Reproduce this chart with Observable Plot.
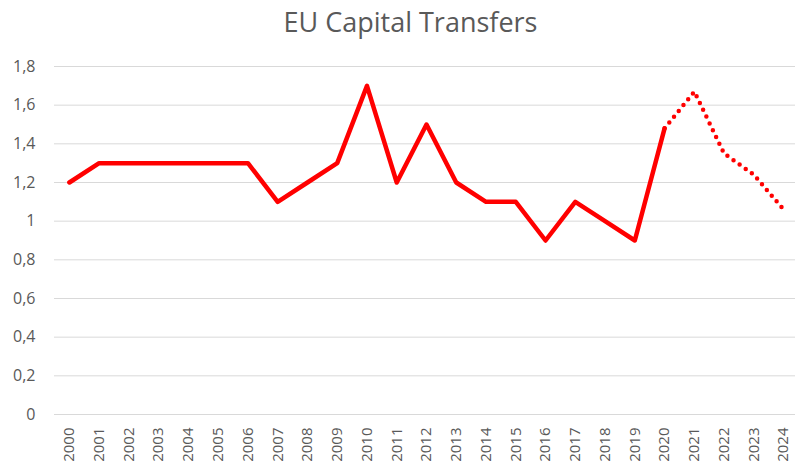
<!DOCTYPE html>
<html>
<head>
<meta charset="utf-8">
<script src="https://cdn.jsdelivr.net/npm/d3@7"></script>
<script src="https://cdn.jsdelivr.net/npm/@observablehq/plot@0.6"></script>
<style>
  html, body { margin: 0; padding: 0; background: #fff; }
  #wrap { width: 795px; height: 473px; position: relative; overflow: hidden; font-family: "Open Sans", sans-serif; }
  #title { height: 44px; line-height: 44px; text-align: center; font-size: 27px; color: #595959; padding-left: 26px; box-sizing: border-box; }
</style>
</head>
<body>
<div id="wrap">
  <div id="title">EU Capital Transfers</div>
  <div id="chart"></div>
</div>
<script>
const years = ["2000","2001","2002","2003","2004","2005","2006","2007","2008","2009","2010","2011","2012",
               "2013","2014","2015","2016","2017","2018","2019","2020","2021","2022","2023","2024"];
const actualYears = years.slice(0, 21);
const actualValues = [1.2,1.3,1.3,1.3,1.3,1.3,1.3,1.1,1.2,1.3,1.7,1.2,1.5,1.2,1.1,1.1,0.9,1.1,1.0,0.9,1.48];
const forecastYears = ["2020","2021","2022","2023","2024"];
const forecastValues = [1.48,1.67,1.35,1.24,1.06];
const yTicks = [0,0.2,0.4,0.6,0.8,1,1.2,1.4,1.6,1.8];

const actual = actualYears.map((y, i) => ({year: y, value: actualValues[i]}));
const forecast = forecastYears.map((y, i) => ({year: y, value: forecastValues[i]}));

const fmt = d => String(d).replace(".", ",");

const chart = Plot.plot({
  width: 795,
  height: 429,
  marginTop: 22,
  marginBottom: 59,
  marginLeft: 54,
  marginRight: -3,
  style: {fontFamily: "Open Sans, sans-serif", color: "#595959", background: "#fff"},
  x: {type: "point", domain: years, padding: 0.5, round: false, label: null},
  y: {domain: [0, 1.8], label: null},
  marks: [
    Plot.gridY(yTicks, {stroke: "#d9d9d9", strokeOpacity: 1, strokeWidth: 1}),
    Plot.axisY(yTicks, {tickSize: 0, tickPadding: 19, tickFormat: fmt, fontSize: 16, fill: "#595959", label: null}),
    Plot.axisX({tickSize: 0, tickPadding: 13, tickRotate: -90, fontSize: 15, fill: "#595959", label: null}),
    Plot.line(actual, {x: "year", y: "value", stroke: "#ff0000", strokeWidth: 4.5, strokeLinejoin: "round", strokeLinecap: "round"}),
    Plot.line(forecast, {x: "year", y: "value", stroke: "#ff0000", strokeWidth: 4.5, strokeLinecap: "round", strokeDasharray: "0 7.5"})
  ]
});
document.getElementById("chart").appendChild(chart);
</script>
</body>
</html>
